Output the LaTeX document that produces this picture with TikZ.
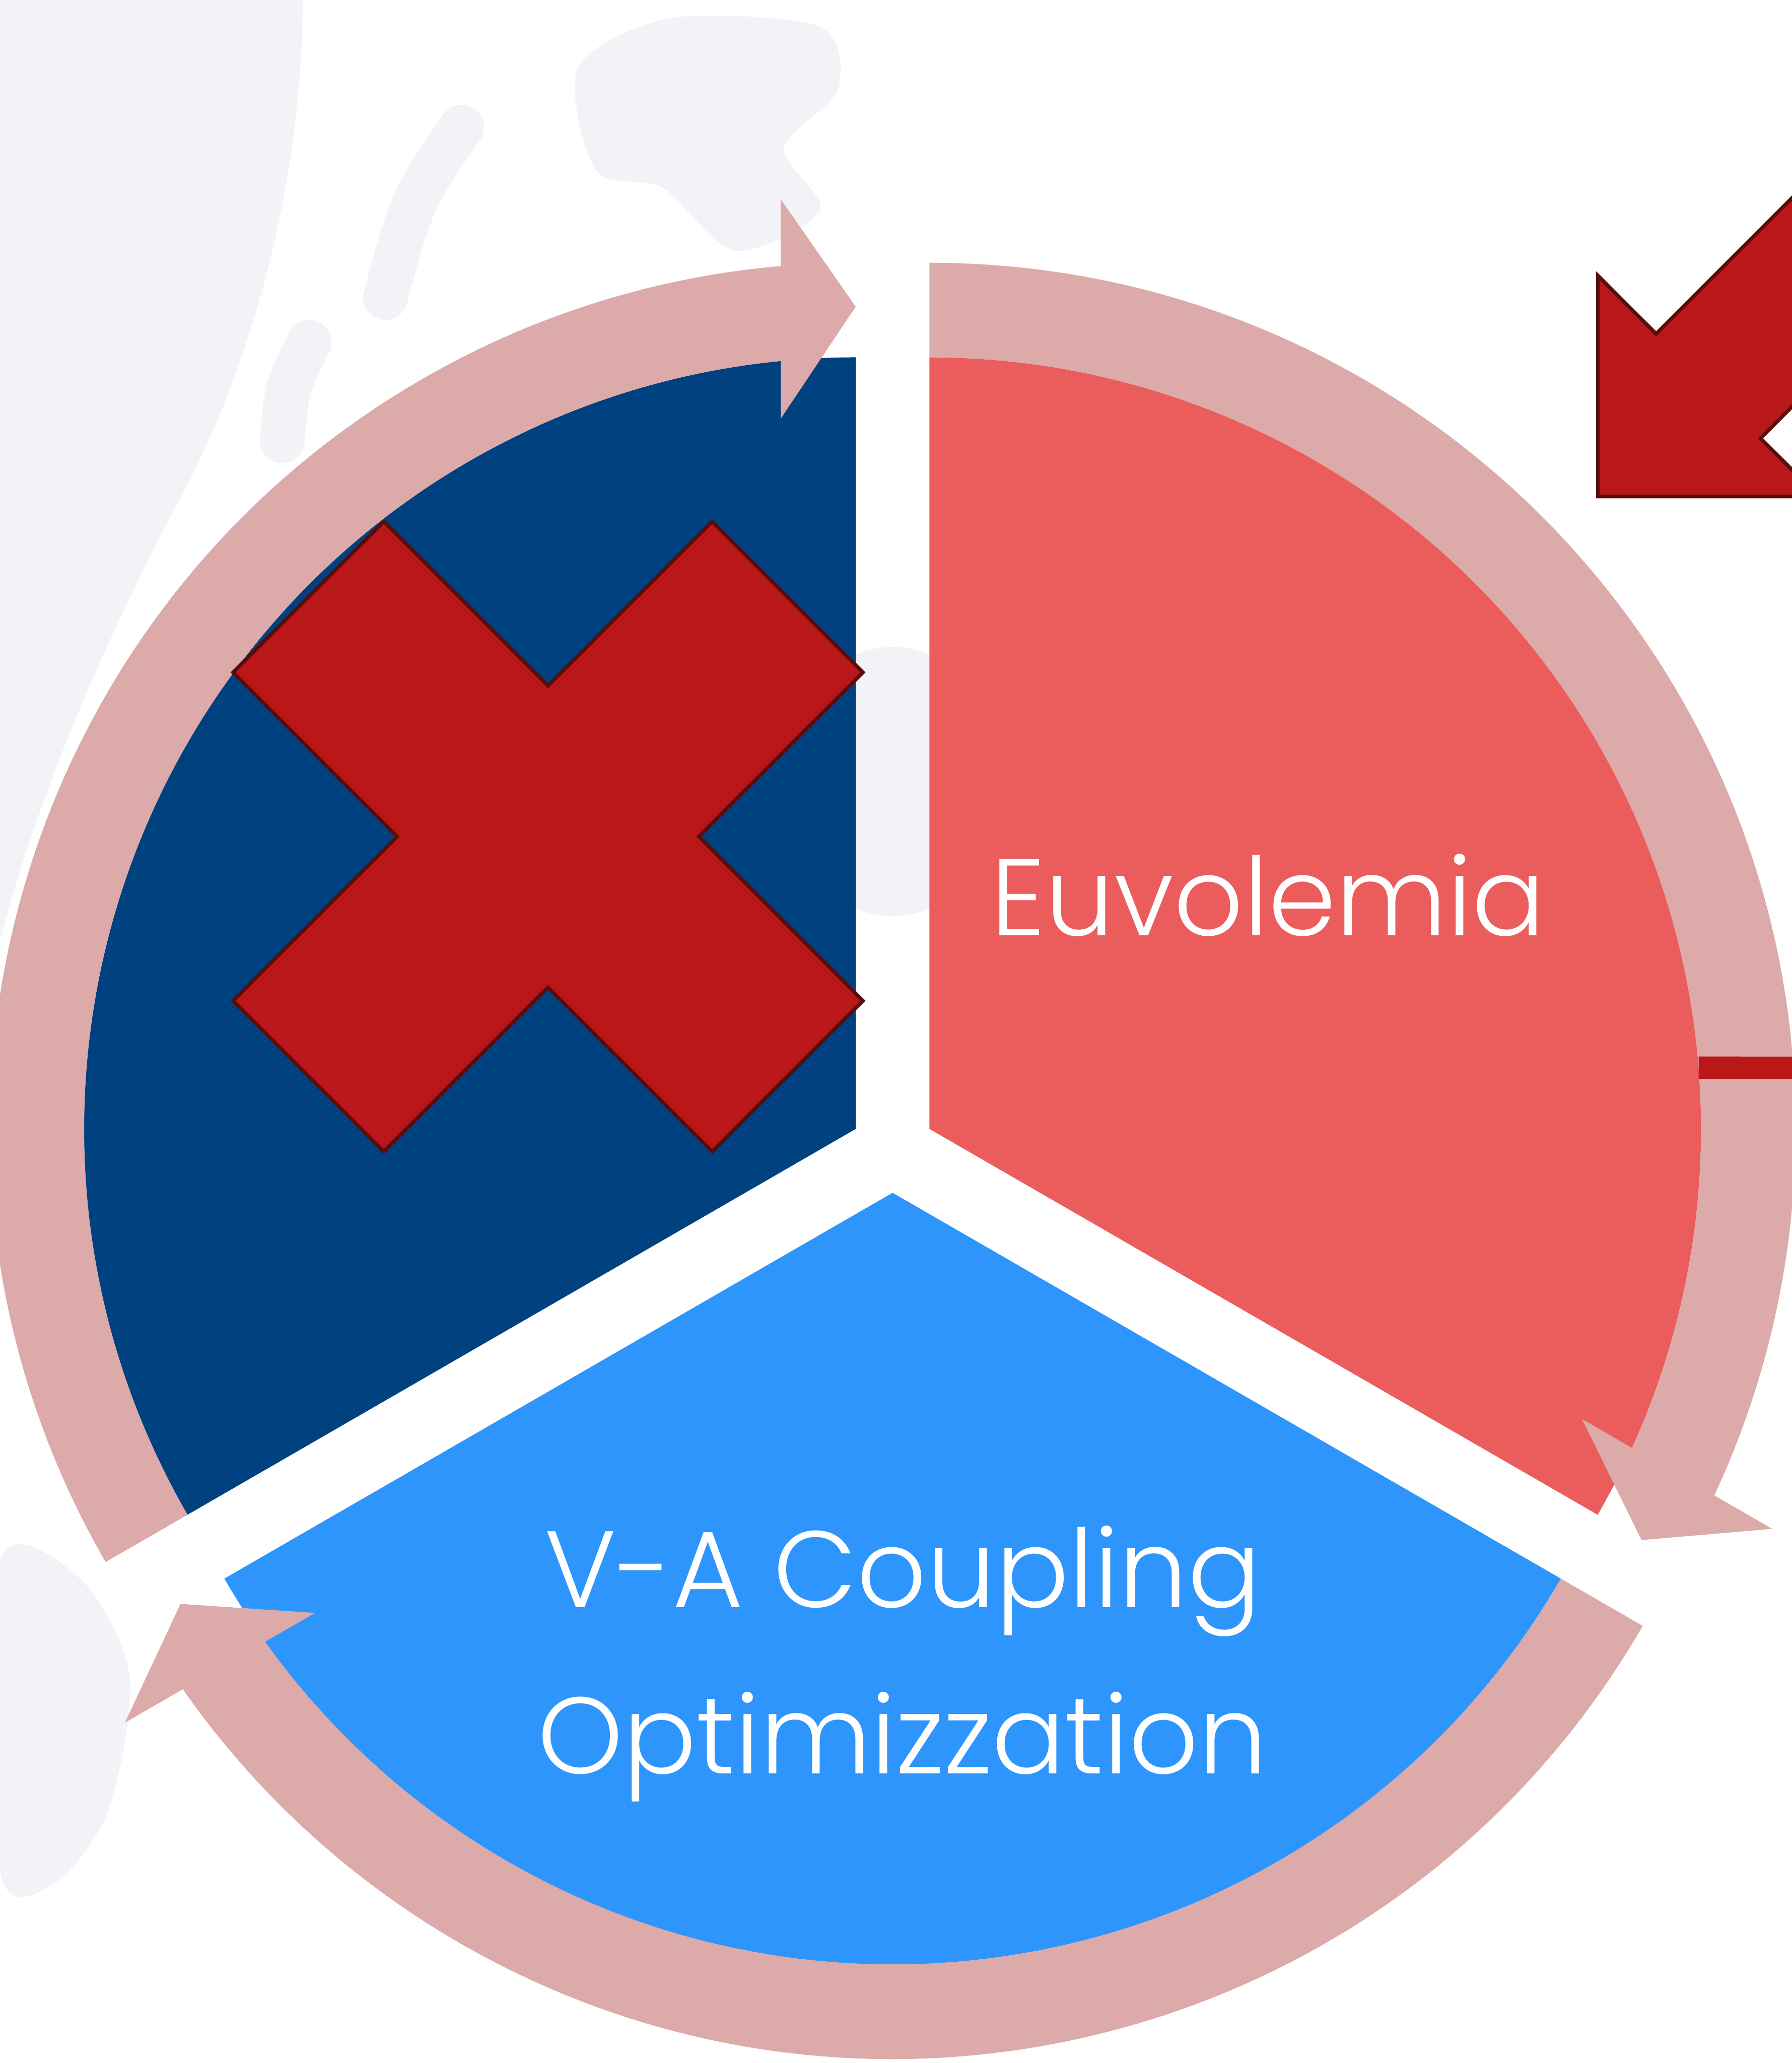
\documentclass[tikz,border=0pt]{standalone}
\usepackage{fontspec}
\newfontfamily\gothic{Poppins Light}
\usepackage{tikz}
\usetikzlibrary{calc}
\definecolor{ring}{HTML}{DBAAA9}
\definecolor{navyseg}{HTML}{004180}
\definecolor{coralseg}{HTML}{EB5D5D}
\definecolor{skyseg}{HTML}{2E95FC}
\definecolor{alarm}{HTML}{BA1818}
\definecolor{alarmedge}{HTML}{5A0B0B}
\definecolor{haze}{HTML}{F3F3F7}
\tikzset{
  cyclearrow/.style={fill=ring},
  segtext/.style={text=white, font=\gothic\fontsize{69}{69}\selectfont,
    inner sep=0pt, anchor=base},
  cross/.style={fill=alarm, draw=alarmedge, line width=0.08cm, line join=miter},
  link/.style={draw=alarm, line width=0.5cm},
  watermark/.style={fill=haze, draw=none}
}

\begin{document}
\begin{tikzpicture}
  \useasboundingbox (0,0) rectangle (39.99,46.04);
  \clip (0,0) rectangle (39.99,46.04);

  % faint figure behind everything
  \fill[watermark] (0,46.04) -- (6.76,46.04) .. controls (6.7,41) and (5.2,37) .. (3.83,34.56)
    .. controls (2.4,31.8) and (0.9,28.5) .. (0,25.04) -- cycle;
  \fill[watermark] plot[smooth cycle] coordinates {(12.9,44.54) (15.0,45.64) (18.3,45.44)
    (18.7,44.04) (17.5,42.74) (18.3,41.34) (16.4,40.44) (14.8,41.84) (13.3,42.24)};
  \draw[haze, line width=1cm, line cap=round] (10.3,43.2) .. controls (9.2,41.6) .. (8.6,39.4);
  \draw[haze, line width=1cm, line cap=round] (6.9,38.4) .. controls (6.4,37.4) .. (6.3,36.2);
  \fill[watermark] (19.92,28.6) ellipse (2.5 and 3.0);
  \fill[watermark] plot[smooth cycle] coordinates {(0,11.2) (1.8,10.8) (2.9,8.6)
    (2.4,5.6) (1.2,4.0) (0,4.3)};

  \coordinate (C) at (19.92,20.37);

  % exploded pie, one slice per start angle
  \foreach \s/\col/\nm in {90/coralseg/cr, 210/navyseg/cn, 330/skyseg/cs}{
    \coordinate (\nm) at ($(C)+(\s-60:0.95)$);
    \fill[\col] (\nm) -- ($(\nm)+(\s:17.22)$)
      arc[start angle=\s, end angle=\s-120, radius=17.22] -- cycle;
  }

  % circular arrows round each slice, head square to the tangent at its tip
  \foreach \s/\nm in {90/cr, 210/cn, 330/cs}{
    \fill[cyclearrow] ($(\nm)+(\s:19.33)$)
      arc[start angle=\s, end angle=\s-115.03, radius=19.33]
      -- ($(\nm)+(\s-120:20.75)+(\s-30:1.675)$)
      -- ($(\nm)+(\s-120:18.35)$)
      -- ($(\nm)+(\s-120:15.85)+(\s-30:1.675)$)
      -- ($(\nm)+(\s-114.42:17.22)$)
      arc[start angle=\s-114.42, end angle=\s, radius=17.22] -- cycle;
  }

  % cross over the dark slice
  \begin{scope}[shift={(12.23,27.37)}, rotate=45]
    \draw[cross] (7.56,2.38) -- (2.38,2.38) -- (2.38,7.56) -- (-2.38,7.56)
      -- (-2.38,2.38) -- (-7.56,2.38) -- (-7.56,-2.38) -- (-2.38,-2.38)
      -- (-2.38,-7.56) -- (2.38,-7.56) -- (2.38,-2.38) -- (7.56,-2.38) -- cycle;
  \end{scope}

  % block arrow coming in from the top right
  \coordinate (tip) at (35.66,34.96);
  \draw[cross] (tip) -- ++(0,4.93) -- ($(tip)+(1.30,3.63)$) -- ++(6,6)
    -- ($(tip)+(9.63,7.30)$) -- ($(tip)+(3.63,1.30)$) -- ($(tip)+(4.93,0)$) -- cycle;

  % link leaving the coral slice
  \coordinate (linkin) at ($(cr)+(4.55:17.22)$);
  \coordinate (linkout) at (40.5,22.21);
  \draw[link] (linkin) -- (linkout);

  % slice labels
  \node[segtext] (euvo)     at (28.30,25.16) {Euvolemia};
  \node[segtext] (coupling) at (20.15,10.17) {V-A Coupling};
  \node[segtext] (optim)    at (20.14,6.46)  {Optimizzation};
\end{tikzpicture}
\end{document}
